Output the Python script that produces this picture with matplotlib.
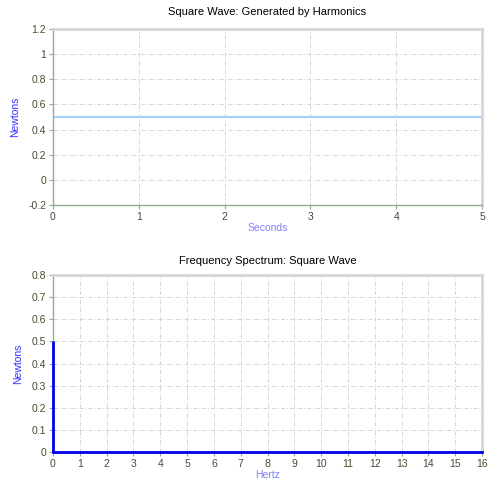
import matplotlib.pyplot as plt

# ====================
# Données
# ====================
time_s = [0.0, 1.0, 2.0, 3.0, 4.0, 5.0]
force_n = [0.5, 0.5, 0.5, 0.5, 0.5, 0.5]

freq_hz = [0, 1, 2, 3, 4, 5, 6, 7, 8, 9, 10, 11, 12, 13, 14, 15, 16]
amp_n = [0.5, 0, 0, 0, 0, 0, 0, 0, 0, 0, 0, 0, 0, 0, 0, 0, 0]

plt.rcParams['font.family'] = ['Liberation Sans', 'DejaVu Sans']

TICK_COL = '#4a4a30'
GRID_KW = dict(color='#d4d4d4', linewidth=0.7, linestyle=(0, (4, 2, 1, 2)))


def style_axes(ax):
    for side in ('left', 'bottom'):
        ax.spines[side].set_color('#8fae8f')
        ax.spines[side].set_linewidth(1.0)
    for side in ('top', 'right'):
        ax.spines[side].set_color('#d6d6d6')
        ax.spines[side].set_linewidth(2.0)
    ax.tick_params(direction='out', length=3, width=0.8, color='#8fae8f',
                   labelsize=7.5, labelcolor=TICK_COL, pad=2)
    ax.grid(True, **GRID_KW)
    ax.set_axisbelow(True)


fig = plt.figure(figsize=(5, 5), dpi=100)

# Onde carrée
ax1 = fig.add_axes([0.106, 0.59, 0.858, 0.352])
ax1.plot(time_s, force_n, color='#a9d1f7', linewidth=1.6)
ax1.set_xlim(0, 5)
ax1.set_ylim(-0.2, 1.2)
ax1.set_xticks([0, 1, 2, 3, 4, 5])
ax1.set_yticks([-0.2, 0, 0.2, 0.4, 0.6, 0.8, 1, 1.2])
ax1.set_yticklabels(['-0.2', '0', '0.2', '0.4', '0.6', '0.8', '1', '1.2'])
ax1.set_title('Square Wave: Generated by Harmonics', fontsize=8, pad=10)
ax1.set_xlabel('Seconds', fontsize=7.5, color='#8080ff', labelpad=1)
ax1.set_ylabel('Newtons', fontsize=7.5, color='#3030ff', labelpad=6)
style_axes(ax1)

# Spectre
ax2 = fig.add_axes([0.106, 0.096, 0.858, 0.354])
ax2.vlines(freq_hz, 0, amp_n, color='#0000ee', linewidth=2,
           zorder=5, clip_on=False)
ax2.plot(freq_hz, [0] * len(freq_hz), color='#0000ee', linewidth=2,
         zorder=5, clip_on=False)
ax2.set_xlim(0, 16)
ax2.set_ylim(0, 0.8)
ax2.set_xticks(freq_hz)
ax2.set_yticks([0, 0.1, 0.2, 0.3, 0.4, 0.5, 0.6, 0.7, 0.8])
ax2.set_yticklabels(['0', '0.1', '0.2', '0.3', '0.4', '0.5', '0.6', '0.7', '0.8'])
ax2.set_title('Frequency Spectrum: Square Wave', fontsize=8, pad=8)
ax2.set_xlabel('Hertz', fontsize=7.5, color='#8080ff', labelpad=1)
ax2.set_ylabel('Newtons', fontsize=7.5, color='#3030ff', labelpad=6)
style_axes(ax2)

fig.savefig('out.png', dpi=100)
